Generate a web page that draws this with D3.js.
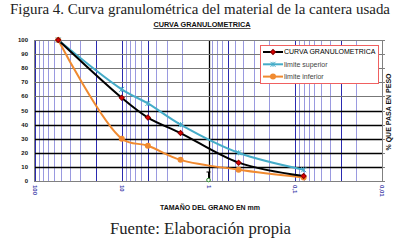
<!DOCTYPE html>
<html><head><meta charset="utf-8">
<script src="https://cdn.jsdelivr.net/npm/d3@7"></script>
<style>body{margin:0;background:#fff}svg{display:block}</style>
</head><body>
<script>
const sizes = [54, 10, 5, 2.1, 0.45, 0.08];
const curva = [100, 59, 45, 34, 13, 3.5];
const superior = [100, 65, 55, 40, 20, 8];
const inferior = [100, 30, 25, 15, 8, 2.5];
const xTicks = [100, 10, 1, 0.1, 0.01];
const xTickLabels = ["100", "10", "1", "0,1", "0,01"];
const yTicks = [0, 10, 20, 30, 40, 50, 60, 70, 80, 90, 100];
const seriesNames = ["CURVA GRANULOMETRICA", "limite superior", "limite inferior"];

const W = 415, H = 248;
const svg = d3.select("body").append("svg").attr("width", W).attr("height", H);
const L = 34, R = 382, T = 40, B = 181;
const x = d3.scaleLog().domain([100, 0.01]).range([L + 1, R]);
const y = d3.scaleLinear().domain([0, 100]).range([B, T]);

// title
svg.append("text").attr("x", 10).attr("y", 14)
  .attr("font-family", "Liberation Serif, serif").attr("font-size", 14).attr("fill", "#222")
  .attr("textLength", 380).attr("lengthAdjust", "spacingAndGlyphs")
  .text("Figura 4. Curva granulométrica del material de la cantera usada");
svg.append("text").attr("x", 202).attr("y", 27).attr("text-anchor", "middle")
  .attr("font-family", "Liberation Sans, Arial, sans-serif").attr("font-weight", "bold")
  .attr("font-size", 7.3).attr("text-decoration", "underline").attr("fill", "#111")
  .text("CURVA GRANULOMETRICA");

// vertical grid (log minor)
const minor = [];
for (let e = -2; e < 2; e++) for (let k = 2; k <= 9; k++) minor.push(k * Math.pow(10, e));
const darker = [20, 5, 0.6, 0.03];
const g = svg.append("g");
minor.forEach(v => {
  const dk = darker.some(d => Math.abs(d - v) < 1e-9);
  g.append("line").attr("x1", Math.round(x(v)) + 0.5).attr("x2", Math.round(x(v)) + 0.5)
    .attr("y1", T).attr("y2", B)
    .attr("stroke", dk ? "#2a2ab0" : "#9a9ae0").attr("stroke-width", 1);
});
xTicks.forEach(v => {
  g.append("line").attr("x1", Math.round(x(v)) + 0.5).attr("x2", Math.round(x(v)) + 0.5)
    .attr("y1", T).attr("y2", B)
    .attr("stroke", v === 1 ? "#000" : "#2a2ab0").attr("stroke-width", v === 1 ? 1.3 : 1);
});
// horizontal grid
yTicks.slice(1, -1).forEach(v => {
  g.append("line").attr("x1", L).attr("x2", R).attr("y1", Math.round(y(v)) + 0.5).attr("y2", Math.round(y(v)) + 0.5)
    .attr("stroke", v <= 50 ? "#000" : "#777").attr("stroke-width", v <= 50 ? 1.3 : 1);
});
// border
svg.append("rect").attr("x", L + 0.5).attr("y", T + 0.5).attr("width", R - L).attr("height", B - T)
  .attr("fill", "none").attr("stroke", "#808080");

// y axis labels
yTicks.forEach(v => {
  svg.append("text").attr("x", 28).attr("y", y(v) + 2).attr("text-anchor", "end")
    .attr("font-family", "Liberation Sans, Arial, sans-serif").attr("font-weight", "bold")
    .attr("font-size", 6).attr("fill", "#111").text(v);
  svg.append("line").attr("x1", R).attr("x2", R + 3).attr("y1", Math.round(y(v)) + 0.5).attr("y2", Math.round(y(v)) + 0.5)
    .attr("stroke", "#808080");
});
// x axis labels rotated
xTicks.forEach((v, i) => {
  svg.append("text").attr("transform", `translate(${x(v) - 2},185) rotate(90)`)
    .attr("font-family", "Liberation Sans, Arial, sans-serif").attr("font-weight", "bold")
    .attr("font-size", 6).attr("fill", "#3a3aa8").text(xTickLabels[i]);
});
svg.append("text").attr("x", 210).attr("y", 210).attr("text-anchor", "middle")
  .attr("font-family", "Liberation Sans, Arial, sans-serif").attr("font-weight", "bold")
  .attr("font-size", 7).attr("fill", "#111").text("TAMAÑO DEL GRANO EN mm");
svg.append("text").attr("transform", `translate(391,112) rotate(-90)`).attr("text-anchor", "middle")
  .attr("font-family", "Liberation Sans, Arial, sans-serif").attr("font-weight", "bold")
  .attr("font-size", 7).attr("fill", "#111").text("% QUE PASA EN PESO");

// green marker at 1
svg.append("line").attr("x1", x(1)).attr("x2", x(1)).attr("y1", y(0) - 2).attr("y2", y(0) - 9).attr("stroke", "#000");
svg.append("line").attr("x1", x(1) - 2).attr("x2", x(1) + 2).attr("y1", y(0) - 9).attr("y2", y(0) - 9).attr("stroke", "#000");
svg.append("circle").attr("cx", x(1)).attr("cy", y(0) - 1).attr("r", 1.8).attr("fill", "#fff").attr("stroke", "#2a8a2a");

const line = d3.line().x(d => x(d[0])).y(d => y(d[1])).curve(d3.curveCatmullRom.alpha(0.5));
const mk = arr => sizes.map((s, i) => [s, arr[i]]);
const colors = ["#000000", "#45acc8", "#f08a30"];
const datasets = [curva, superior, inferior];
[2, 1, 0].forEach(k => {
  svg.append("path").attr("d", line(mk(datasets[k]))).attr("fill", "none")
    .attr("stroke", colors[k]).attr("stroke-width", 2);
});
function marker(sel, k, cx, cy) {
  if (k === 0) {
    sel.append("rect").attr("x", cx - 1.8).attr("y", cy - 1.8).attr("width", 3.6).attr("height", 3.6)
      .attr("transform", `rotate(45,${cx},${cy})`).attr("fill", "#e00000").attr("stroke", "#800");
  } else if (k === 1) {
    const s = 2.5;
    [[-s, -s, s, s], [-s, s, s, -s], [0, -s, 0, s]].forEach(p =>
      sel.append("line").attr("x1", cx + p[0]).attr("y1", cy + p[1]).attr("x2", cx + p[2]).attr("y2", cy + p[3])
        .attr("stroke", "#45acc8").attr("stroke-width", 1));
  } else {
    sel.append("circle").attr("cx", cx).attr("cy", cy).attr("r", 3).attr("fill", "#f08a30");
  }
}
[2, 1, 0].forEach(k => {
  mk(datasets[k]).forEach(d => marker(svg, k, x(d[0]), y(d[1])));
});

// legend
const lg = svg.append("g");
lg.append("rect").attr("x", 260.5).attr("y", 45.5).attr("width", 118).attr("height", 38)
  .attr("fill", "#fff").attr("stroke", "#f06060");
seriesNames.forEach((n, k) => {
  const yy = 52 + k * 12.3;
  lg.append("line").attr("x1", 263).attr("x2", 283).attr("y1", yy).attr("y2", yy)
    .attr("stroke", colors[k]).attr("stroke-width", 2);
  marker(lg, k, 273, yy);
  lg.append("text").attr("x", 284).attr("y", yy + 2.4)
    .attr("font-family", "Liberation Sans, Arial, sans-serif").attr("font-size", 7)
    .attr("fill", k === 0 ? "#000" : "#444").text(n);
});

svg.append("text").attr("x", 110).attr("y", 234)
  .attr("font-family", "Liberation Serif, serif").attr("font-size", 16).attr("fill", "#222")
  .attr("textLength", 181).attr("lengthAdjust", "spacingAndGlyphs")
  .text("Fuente: Elaboración propia");
</script>
</body></html>
